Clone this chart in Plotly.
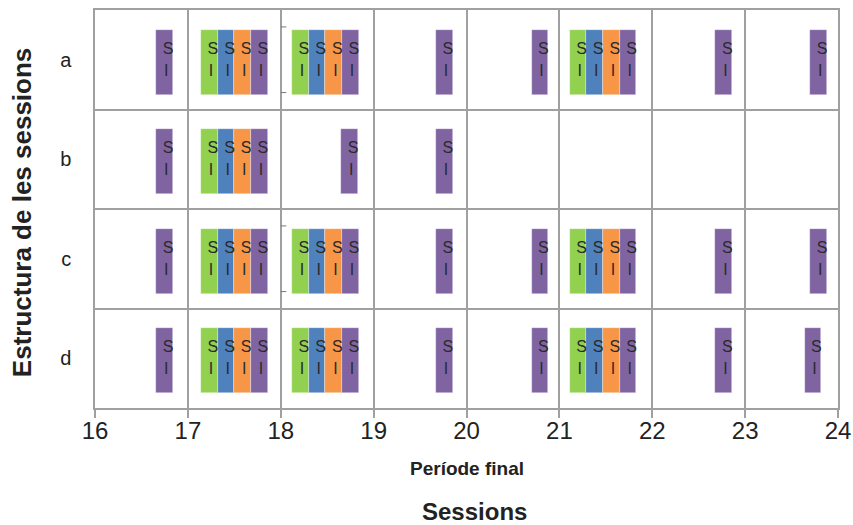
import plotly.graph_objects as go

# ---- data ----
row_names = ["a", "b", "c", "d"]
row_pos = [3, 2, 1, 0]          # a at top

# bar centres (Període final) and the row each bar belongs to
green_x = [17.23, 18.21, 21.20, 17.23, 17.23, 18.21, 21.20, 17.23, 18.21, 21.20]
green_row = ["a", "a", "a", "b", "c", "c", "c", "d", "d", "d"]

blue_x = [17.41, 18.39, 21.38, 17.41, 17.41, 18.39, 21.38, 17.41, 18.39, 21.38]
blue_row = ["a", "a", "a", "b", "c", "c", "c", "d", "d", "d"]

orange_x = [17.59, 18.57, 21.56, 17.59, 17.59, 18.57, 21.56, 17.59, 18.57, 21.56]
orange_row = ["a", "a", "a", "b", "c", "c", "c", "d", "d", "d"]

purple_x = [16.75, 17.77, 18.75, 19.76, 20.79, 21.74, 22.77, 23.79,
            16.75, 17.77, 18.74, 19.76,
            16.75, 17.77, 18.75, 19.76, 20.79, 21.74, 22.77, 23.79,
            16.75, 17.77, 18.75, 19.76, 20.79, 21.74, 22.77, 23.73]
purple_row = ["a"] * 8 + ["b"] * 4 + ["c"] * 8 + ["d"] * 8

dash_x = [18.03, 18.03, 18.03, 18.03]
dash_row = ["a", "a", "c", "c"]
dash_side = [1, -1, 1, -1]

x_ticks = [16, 17, 18, 19, 20, 21, 22, 23, 24]

series = [
    ("green", green_x, green_row, "#92D050"),
    ("blue", blue_x, blue_row, "#4F81BD"),
    ("orange", orange_x, orange_row, "#F79646"),
    ("purple", purple_x, purple_row, "#8064A2"),
]

# ---- figure ----
ypos = dict(zip(row_names, row_pos))
BAR_W = 0.18
BAR_H = 0.65
BAR_OFF = -0.35

fig = go.Figure()
for name, xs, rows, col in series:
    ys = [ypos[r] for r in rows]
    fig.add_trace(go.Bar(
        x=xs, y=[BAR_H] * len(xs), base=[y + BAR_OFF for y in ys],
        width=BAR_W, marker=dict(color=col, line=dict(width=0.6, color="rgba(255,255,255,0.6)")),
        name=name, showlegend=False, hoverinfo="skip"))

all_x = green_x + blue_x + orange_x + purple_x
all_row = green_row + blue_row + orange_row + purple_row
all_y = [ypos[r] for r in all_row]
fig.add_trace(go.Scatter(
    x=[x + 0.038 for x in all_x], y=[y + 0.10 for y in all_y],
    mode="text", text=["S"] * len(all_x),
    textfont=dict(family="Liberation Sans, Arial", size=16, color="#2a2a2a"),
    showlegend=False, hoverinfo="skip"))
fig.add_trace(go.Scatter(
    x=[x + 0.018 for x in all_x], y=[y - 0.12 for y in all_y],
    mode="text", text=["I"] * len(all_x),
    textfont=dict(family="Liberation Sans, Arial", size=16, color="#2a2a2a"),
    showlegend=False, hoverinfo="skip"))

fig.add_trace(go.Scatter(
    x=dash_x, y=[ypos[r] + s * 0.33 for r, s in zip(dash_row, dash_side)],
    mode="markers", marker=dict(symbol="line-ew", size=4, line=dict(width=1, color="#777")),
    showlegend=False, hoverinfo="skip"))

GRID = "#a0a0a0"
fig.update_layout(
    width=853, height=525,
    margin=dict(l=95, r=15, t=10, b=117),
    plot_bgcolor="white", paper_bgcolor="white",
    barmode="overlay", bargap=0,
    font=dict(family="Liberation Sans, Arial", color="#222"),
    xaxis=dict(range=[16, 24], tickvals=x_ticks, showgrid=True, gridcolor=GRID, gridwidth=1.5,
               showline=True, mirror=True, linecolor=GRID, linewidth=1.5,
               ticks="outside", ticklen=8, tickcolor=GRID, tickwidth=1.5,
               tickfont=dict(size=24, color="#222"), ticklabelstandoff=-8, zeroline=False,
               automargin=False),
    yaxis=dict(range=[-0.5, 3.5], tickvals=row_pos, ticktext=row_names, showgrid=False,
               minor=dict(tickvals=[0.5, 1.5, 2.5], showgrid=True, gridcolor=GRID, gridwidth=1.5),
               showline=True, mirror=True, linecolor=GRID, linewidth=1.5, ticks="",
               tickfont=dict(size=20, color="#222"), ticklabelstandoff=18, zeroline=False,
               automargin=False),
    annotations=[
        dict(text="<b>Estructura de les sessions</b>", textangle=-90, xref="paper", yref="paper",
             x=-0.098, y=0.49, showarrow=False, font=dict(size=26, color="#222"),
             xanchor="center", yanchor="middle"),
        dict(text="<b>Període final</b>", xref="paper", yref="paper", x=0.5, y=-0.151,
             showarrow=False, font=dict(size=19, color="#222"), xanchor="center", yanchor="middle"),
        dict(text="<b>Sessions</b>", xref="paper", yref="paper", x=0.511, y=-0.259,
             showarrow=False, font=dict(size=24, color="#222"), xanchor="center", yanchor="middle"),
    ],
)

fig.write_html("out.html", config={"displayModeBar": False},
               post_script="document.body.style.margin='0';")
